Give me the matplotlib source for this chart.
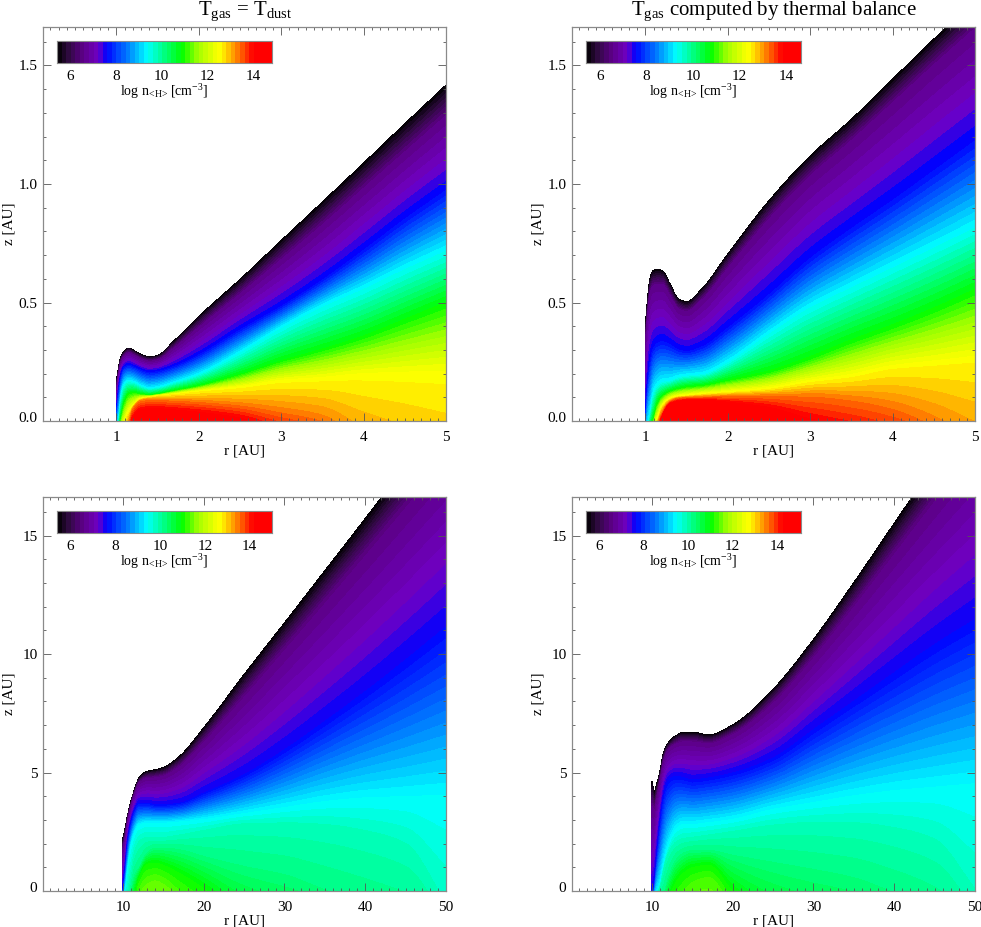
import numpy as np
import matplotlib
matplotlib.use("Agg")
import matplotlib.pyplot as plt
from matplotlib.colors import LinearSegmentedColormap, Normalize
from matplotlib.ticker import MultipleLocator, FormatStrFormatter
from matplotlib.transforms import ScaledTranslation

plt.rcParams['font.family'] = ['Liberation Serif', 'DejaVu Serif']
plt.rcParams['mathtext.fontset'] = 'custom'
plt.rcParams['mathtext.rm'] = 'Liberation Serif'
plt.rcParams['mathtext.default'] = 'rm'

# Radii at which each iso-density contour was read
R_INNER = [1, 1.03, 1.06, 1.1, 1.15, 1.2, 1.3, 1.4, 1.5, 1.7, 2, 2.5, 3, 3.5, 4, 4.5, 5]
R_OUTER = [10, 10.3, 10.6, 11, 11.5, 12, 13, 14, 15, 17, 20, 25, 30, 35, 40, 45, 50]

# Top-left: log n levels and contour heights z(r)
A_LEVELS = [5.43, 6.56, 7.6, 9.35, 10.85, 12.55, 13.3, 14.05]
A_Z = [
    [.16, .23, .273, .295, .307, .299, .28, .27, .276, .337, .44, .596, .76, .923, 1.087, 1.253, 1.416],
    [.121, .201, .25, .275, .286, .279, .26, .251, .256, .305, .392, .533, .678, .825, .979, 1.132, 1.285],
    [.03, .133, .196, .229, .237, .231, .215, .206, .21, .231, .28, .386, .485, .597, .724, .857, .98],
    [-.05, .006, .105, .154, .168, .164, .147, .136, .14, .161, .196, .288, .393, .485, .562, .646, .724],
    [-.1, -.05, .013, .077, .112, .119, .112, .108, .112, .126, .147, .196, .253, .302, .358, .428, .499],
    [-.15, -.1, -.05, -.01, .035, .06, .093, .1, .105, .112, .124, .14, .165, .175, .188, .19, .19],
    [-.2, -.15, -.1, -.05, -.01, .05, .085, .09, .09, .088, .083, .07, .045, .01, -.12, -.24, -.38],
    [-.25, -.2, -.15, -.1, -.05, .01, .045, .05, .05, .045, .035, .01, -.05, -.1, -.3, -.4, -.5],
]
# Top-right
B_LEVELS = [5.39, 6.5, 7.55, 9.3, 10.8, 12.45, 13.2, 13.95]
B_Z = [
    [.393, .52, .604, .635, .638, .635, .576, .515, .503, .562, .703, .928, 1.117, 1.272, 1.441, 1.61, 1.77],
    [.314, .447, .534, .57, .576, .575, .525, .472, .461, .513, .641, .849, 1.031, 1.181, 1.34, 1.5, 1.654],
    [0.0, .154, .252, .309, .33, .337, .323, .302, .295, .316, .393, .534, .688, .815, .935, 1.061, 1.188],
    [-.1, -.02, .027, .112, .147, .161, .168, .182, .189, .196, .245, .365, .477, .562, .646, .73, .815],
    [-.2, -.1, -.05, 0.0, .07, .098, .122, .133, .14, .147, .168, .203, .26, .33, .393, .463, .541],
    [-.3, -.2, -.1, -.03, .006, .056, .091, .102, .105, .112, .119, .133, .161, .182, .217, .231, .245],
    [-.4, -.3, -.2, -.1, -.02, .03, .08, .095, .098, .1, .103, .105, .105, .09, .055, -.02, -.15],
    [-.5, -.4, -.3, -.2, -.06, .01, .07, .08, .085, .085, .075, .05, -.005, -.05, -.1, -.15, -.25],
]
# Bottom-left
C_LEVELS = [5.4, 6.55, 7.6, 9.43, 9.85, 10.2, 11.0, 11.4]
C_Z = [
    [2.22, 2.65, 3.21, 3.77, 4.33, 4.76, 5.04, 5.11, 5.2, 5.67, 6.87, 9.12, 11.3, 13.5, 15.7, 17.95, 20.2],
    [1.74, 2.28, 2.96, 3.57, 4.13, 4.53, 4.75, 4.78, 4.85, 5.24, 6.27, 8.19, 10.18, 12.18, 14.2, 16.24, 18.3],
    [.04, .96, 2.08, 2.86, 3.42, 3.7, 3.7, 3.63, 3.63, 3.7, 4.12, 4.9, 5.95, 7.15, 8.41, 9.75, 11.15],
    [-.5, -.03, .85, 1.85, 2.45, 2.75, 2.85, 2.85, 2.85, 2.9, 3.0, 3.25, 3.5, 3.75, 3.9, 3.95, 4.0],
    [-1, -.5, -.1, .7, 1.6, 2.0, 2.2, 2.2, 2.2, 2.3, 2.5, 2.78, 2.8, 2.7, 2.4, 1.8, -1],
    [-2, -1.5, -1, -.1, .68, .96, 1.59, 1.8, 1.8, 1.73, 1.45, 1.03, .68, .04, -.6, -1.2, -1.8],
    [-3, -2.5, -2, -1, -.2, .5, 1.1, 1.15, 1.05, .7, .05, -1.5, -2.5, -3, -3.5, -4, -4.5],
    [-4, -3.5, -3, -2, -1, -.3, .2, .35, .2, -.5, -1.5, -3, -4, -4.5, -5, -5.5, -6],
]
# Bottom-right
D_LEVELS = [5.42, 6.58, 7.64, 9.48, 9.9, 10.25, 11.02, 11.4]
D_Z = [
    [4.6, 4.2, 4.5, 5.04, 5.88, 6.23, 6.55, 6.7, 6.7, 6.58, 7.0, 8.5, 10.6, 13.0, 15.5, 18.0, 20.5],
    [3.6, 3.4, 3.87, 4.59, 5.51, 5.91, 6.2, 6.31, 6.3, 6.22, 6.6, 7.92, 9.84, 12.0, 14.24, 16.48, 18.7],
    [-.3, .25, 1.38, 2.79, 4.05, 4.61, 4.83, 4.76, 4.68, 4.76, 4.97, 5.6, 6.79, 7.99, 9.19, 10.38, 11.44],
    [-.8, -.4, -.1, .25, 1.1, 1.8, 2.58, 2.79, 2.79, 2.86, 3.0, 3.42, 3.7, 3.98, 4.19, 4.33, 4.47],
    [-1.2, -.8, -.3, .1, .9, 1.5, 2.0, 2.15, 2.2, 2.3, 2.45, 2.7, 2.8, 2.75, 2.5, 1.94, -.4],
    [-2, -1.5, -1, -.3, -.1, .5, 1.3, 1.6, 1.7, 1.7, 1.5, 1.2, .9, .55, -.1, -.9, -2],
    [-3, -2.5, -2, -1.2, -.8, -.4, .4, .8, 1.0, 1.1, 0, -1.5, -2.5, -3, -3.5, -4, -4.5],
    [-4, -3.5, -3, -2.5, -2, -1.2, -.8, -.3, .1, .35, -1, -3, -4, -4.5, -5, -5.5, -6],
]

# Colour-bar ranges
VRANGE = {'a': (5.43, 14.83), 'b': (5.39, 14.65), 'c': (5.4, 15.0), 'd': (5.42, 15.08)}
CBAR_TICKS = [6, 8, 10, 12, 14]
TITLE_LEFT = r"$\mathrm{T_{gas}}$ = $\mathrm{T_{dust}}$"
TITLE_RIGHT = r"$\mathrm{T_{gas}}$ computed by thermal balance"
CBAR_LABEL = r"log n$_{\!<\!\mathrm{H}\!>\!}$$\,$[cm$^{-3}$]"

W, H = 981, 927
cmap = LinearSegmentedColormap.from_list("rb", [
    (0.00, "#000000"), (0.05, "#2c0a3c"), (0.12, "#5c0086"), (0.19, "#7000c4"),
    (0.23, "#0000ff"), (0.33, "#0080ff"), (0.42, "#00ffff"), (0.50, "#00ff80"),
    (0.58, "#00ff00"), (0.656, "#a0ff00"), (0.735, "#f0ff00"), (0.76, "#ffff00"),
    (0.81, "#ffb000"), (0.875, "#ff4000"), (0.91, "#ff0000"), (1.00, "#ff0000")], N=512)


def pchip(x, y, xi):
    x = np.asarray(x, float); y = np.asarray(y, float)
    h = np.diff(x); d = np.diff(y) / h
    m = np.zeros_like(y)
    for i in range(1, len(y) - 1):
        if d[i - 1] * d[i] > 0:
            w1 = 2 * h[i] + h[i - 1]; w2 = h[i] + 2 * h[i - 1]
            m[i] = (w1 + w2) / (w1 / d[i - 1] + w2 / d[i])
    m[0], m[-1] = d[0], d[-1]
    k = np.clip(np.searchsorted(x, xi, side='right') - 1, 0, len(h) - 1)
    t = (xi - x[k]) / h[k]
    return ((2*t**3 - 3*t**2 + 1) * y[k] + (t**3 - 2*t**2 + t) * h[k] * m[k]
            + (-2*t**3 + 3*t**2) * y[k+1] + (t**3 - t**2) * h[k] * m[k+1])


fig = plt.figure(figsize=(W / 100, H / 100), dpi=100, facecolor='white')


def px_axes(l, t, r, b, **kw):
    return fig.add_axes([l / W, 1 - b / H, (r - l) / W, (b - t) / H], **kw)


def panel(l, t, rnodes, levels, ztab, vrange, xlim, ymax, xmaj, xmin, ymaj, ymin, yfmt, nbands):
    ax = px_axes(l, t, l + 403, t + 394)
    rfine = np.concatenate([np.linspace(rnodes[i], rnodes[i + 1], 14, endpoint=False)
                            for i in range(len(rnodes) - 1)] + [[rnodes[-1]]])
    Zf = np.array([pchip(rnodes, row, rfine) for row in ztab])
    # closing row below the midplane so the densest region is filled too
    Zf = np.vstack([Zf, Zf[-1] - ymax * 0.4])
    lev = list(levels) + [levels[-1] + 0.6]
    Rf = np.tile(rfine, (len(lev), 1))
    Cf = np.tile(np.array(lev, float)[:, None], (1, len(rfine)))
    lv = np.linspace(vrange[0], vrange[1], nbands)
    norm = Normalize(*vrange)
    cs = ax.contourf(Rf, Zf, Cf, levels=lv, cmap=cmap, norm=norm, zorder=1)
    cs.set_edgecolor('face'); cs.set_linewidth(0.3)
    ax.set_xlim(*xlim); ax.set_ylim(0, ymax)
    ax.xaxis.set_major_locator(MultipleLocator(xmaj)); ax.xaxis.set_minor_locator(MultipleLocator(xmin))
    ax.yaxis.set_major_locator(MultipleLocator(ymaj)); ax.yaxis.set_minor_locator(MultipleLocator(ymin))
    ax.yaxis.set_major_formatter(FormatStrFormatter(yfmt))
    ax.xaxis.set_major_formatter(FormatStrFormatter('%d'))
    ax.tick_params(which='both', direction='in', top=True, right=True, color='#555555', width=0.6)
    ax.tick_params(which='major', length=5.5, labelsize=11, labelcolor='black')
    ax.tick_params(which='minor', length=2.5)
    ax.tick_params(axis='x', which='major', pad=7)
    ax.tick_params(axis='y', which='major', pad=4)
    for s in ax.spines.values():
        s.set_color('#8a8a8a'); s.set_linewidth(0.9); s.set_zorder(3)
    ax.set_xlabel("r [AU]", fontsize=11, labelpad=0.5)
    ax.set_ylabel("z [AU]", fontsize=11)
    ax.yaxis.set_label_coords(-28 / 403, 0.5)
    fig.canvas.draw()
    for lab in ax.get_yticklabels():
        if lab.get_position()[1] == 0:
            lab.set_transform(lab.get_transform() + ScaledTranslation(0, 4.5 / 100, fig.dpi_scale_trans))
    # inset colour bar
    lc = np.linspace(vrange[0], vrange[1], 48)
    cb = px_axes(l + 14, t + 14, l + 229, t + 36)
    cb.pcolormesh(lc, [0, 1], 0.5 * (lc[1:] + lc[:-1])[None, :], cmap=cmap, norm=norm, zorder=1)
    cb.set_xlim(*vrange); cb.set_ylim(0, 1); cb.set_yticks([])
    cb.set_xticks(CBAR_TICKS)
    cb.tick_params(axis='x', length=0, labelsize=11, pad=5)
    for s in cb.spines.values():
        s.set_color('#8a8a8a'); s.set_linewidth(0.8)
    fig.text((l + 121) / W, 1 - (t + 69) / H, CBAR_LABEL, ha='center', va='baseline', fontsize=10)
    return ax


Z_TOP = 394 / 237
Z_BOT = 394 / 23.7
panel(43, 27, R_INNER, A_LEVELS, A_Z, VRANGE['a'], (0.11, 5), Z_TOP, 1, .1, .5, .1, '%.1f', 60)
panel(572, 27, R_INNER, B_LEVELS, B_Z, VRANGE['b'], (0.11, 5), Z_TOP, 1, .1, .5, .1, '%.1f', 60)
panel(43, 497, R_OUTER, C_LEVELS, C_Z, VRANGE['c'], (0.1, 50), Z_BOT, 10, 1, 5, 1, '%d', 75)
panel(572, 497, R_OUTER, D_LEVELS, D_Z, VRANGE['d'], (0.1, 50), Z_BOT, 10, 1, 5, 1, '%d', 75)

fig.text(245 / W, 1 - 15 / H, TITLE_LEFT, ha='center', va='baseline', fontsize=15)
fig.text(774 / W, 1 - 15 / H, TITLE_RIGHT, ha='center', va='baseline', fontsize=15)

fig.savefig("out.png", dpi=100, facecolor='white')
